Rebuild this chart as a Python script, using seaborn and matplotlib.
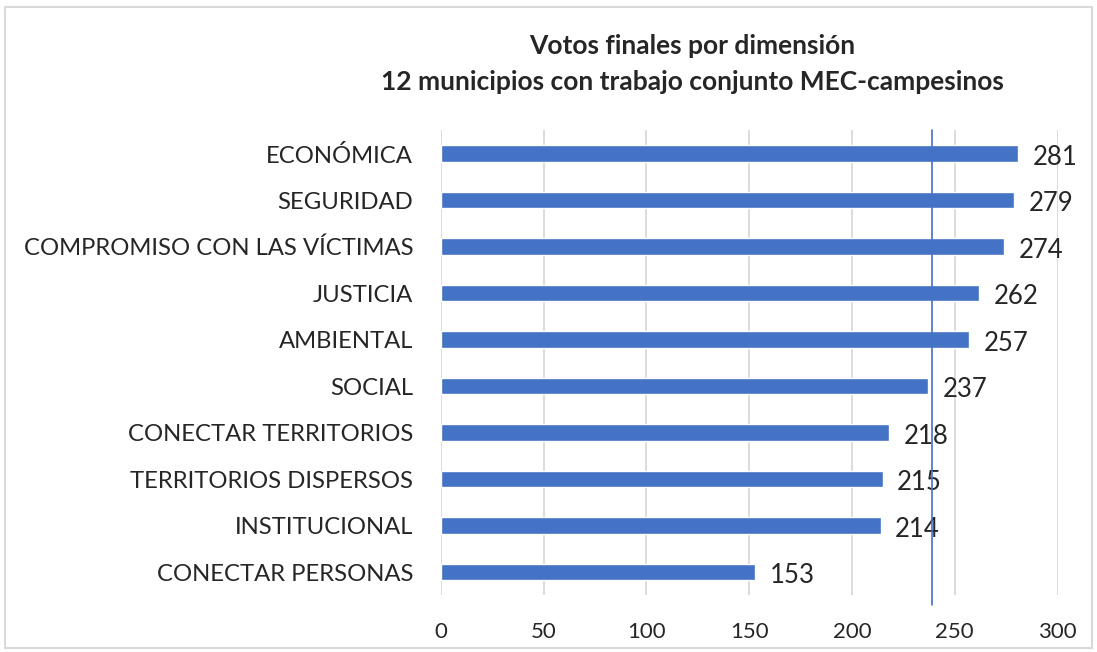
import matplotlib
matplotlib.use("Agg")
from matplotlib import pyplot as plt
from matplotlib.patches import Rectangle
import pandas as pd
import seaborn as sns

# datos del grafico
dimensiones = ["ECONÓMICA", "SEGURIDAD", "COMPROMISO CON LAS VÍCTIMAS", "JUSTICIA",
               "AMBIENTAL", "SOCIAL", "CONECTAR TERRITORIOS", "TERRITORIOS DISPERSOS",
               "INSTITUCIONAL", "CONECTAR PERSONAS"]
votos = [281, 279, 274, 262, 257, 237, 218, 215, 214, 153]
promedio = 239
ticks_x = [0, 50, 100, 150, 200, 250, 300]

df = pd.DataFrame({"dimension": dimensiones, "votos": votos})

sns.set_style("white")
plt.rcParams["font.family"] = ["Lato", "DejaVu Sans"]

fig = plt.figure(figsize=(10.97, 6.52), dpi=100)
ax = fig.add_axes([0.402, 0.087, 0.562, 0.713])

sns.barplot(data=df, x="votos", y="dimension", color="#4472C4", width=0.36,
            saturation=1, ax=ax, zorder=3)

ax.set_xlim(0, 300)
ax.set_xticks(ticks_x)
ax.set_xlabel("")
ax.set_ylabel("")
ax.tick_params(axis="x", length=0, labelsize=16, pad=19)
ax.tick_params(axis="y", length=0, labelsize=17.2, pad=20)
ax.grid(axis="x", color="#d9d9d9", linewidth=1.3, zorder=0)
for s in ax.spines.values():
    s.set_visible(False)

for i, v in enumerate(votos):
    ax.text(v + 7, i + 0.08, str(v), va="center", ha="left", fontsize=18.5, zorder=4)

# linea del promedio
ax.axvline(promedio, ymin=-0.02, ymax=1.0, color="#4472C4", linewidth=1.2,
           zorder=5, clip_on=False)

fig.text(0.631, 0.93, "Votos finales por dimensión", ha="center", va="center",
         fontsize=19, fontweight="bold")
fig.text(0.631, 0.874, "12 municipios con trabajo conjunto MEC-campesinos",
         ha="center", va="center", fontsize=19, fontweight="bold")

fig.patches.append(Rectangle((0.005, 0.006), 0.99, 0.983, transform=fig.transFigure,
                             fill=False, edgecolor="#d9d9d9", linewidth=1.5))

fig.savefig("out.png", dpi=100)
plt.close(fig)
